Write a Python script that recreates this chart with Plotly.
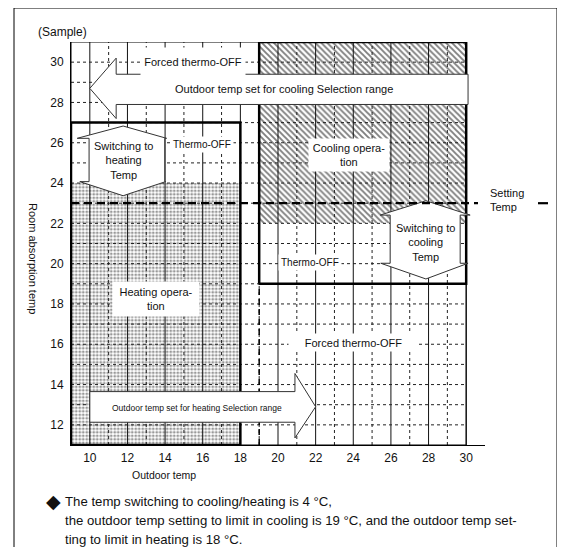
import plotly.graph_objects as go

# --- chart values ---
x_ticks = [10, 12, 14, 16, 18, 20, 22, 24, 26, 28, 30]
y_ticks = [12, 14, 16, 18, 20, 22, 24, 26, 28, 30]
x_minor = [11, 13, 15, 17, 19, 21, 23, 25, 27, 29]
y_rows = list(range(12, 31))

x_lo, x_hi, x_axis_end = 9, 30, 31
y_lo, y_hi = 11, 31

setting_temp = 23
heating_limit = 18        # outdoor temp limit in heating
cooling_limit = 19        # outdoor temp limit in cooling
heating_box_top = 27
heating_on_top = 24
cooling_box_bottom = 19
cooling_on_bottom = 22

# arrow outlines (outdoor temp, room temp)
cool_range_x = [30.1, 11.4, 11.4, 10.0, 11.4, 11.4, 30.1, 30.1]
cool_range_y = [29.4, 29.4, 30.2, 28.7, 27.2, 27.9, 27.9, 29.4]
heat_range_x = [10.0, 20.9, 20.9, 22.0, 20.9, 20.9, 10.0, 10.0]
heat_range_y = [13.65, 13.65, 14.55, 12.9, 11.35, 12.13, 12.13, 13.65]
sw_heat_x = [11.77, 14.08, 13.98, 13.98, 14.03, 11.77, 9.47, 9.96, 9.96, 9.33, 11.77]
sw_heat_y = [26.83, 26.22, 26.22, 24.07, 24.07, 23.37, 24.07, 24.07, 26.22, 26.22, 26.83]
sw_cool_x = [27.86, 30.21, 29.68, 29.68, 30.1, 27.86, 25.46, 25.96, 25.96, 25.43, 27.86]
sw_cool_y = [23.12, 22.41, 22.41, 20.02, 20.02, 19.24, 20.02, 20.02, 22.41, 22.41, 23.12]

FONT = "Liberation Sans, Arial, sans-serif"

# plot area in reference pixels (left, right, top, bottom); page body adds 8px
PL, PR, PT, PB = 71, 485, 42, 445
OFF = 8
W, H = 565 - OFF, 547 - OFF


def px(x):
    return (x - PL) / (PR - PL)


def py(y):
    return (PB - y) / (PB - PT)


def rect(x0, x1, y0, y1):
    return [x0, x1, x1, x0, x0], [y0, y0, y1, y1, y0]


def segs(pairs):
    xs, ys = [], []
    for (a, b) in pairs:
        xs += [a[0], b[0], None]
        ys += [a[1], b[1], None]
    return xs, ys


fig = go.Figure()

# --- operation areas ---
hx, hy = rect(x_lo, heating_limit, y_lo, heating_on_top)
fig.add_trace(go.Scatter(x=hx, y=hy, fill="toself", mode="none",
                         fillpattern=dict(shape=".", size=3.5, solidity=0.5,
                                          fgcolor="#333", bgcolor="white")))
cx, cy = rect(cooling_limit, x_hi, cooling_on_bottom, y_hi)
fig.add_trace(go.Scatter(x=cx, y=cy, fill="toself", mode="none",
                         fillpattern=dict(shape="\\", size=4.2, solidity=0.45,
                                          fgcolor="#000", bgcolor="white")))

# --- grid ---
gx, gy = segs([((v, y_lo), (v, y_hi)) for v in x_ticks])
fig.add_trace(go.Scatter(x=gx, y=gy, mode="lines", line=dict(color="#111", width=1)))
gx, gy = segs([((v, y_lo), (v, y_hi)) for v in x_minor])
fig.add_trace(go.Scatter(x=gx, y=gy, mode="lines", line=dict(color="#222", width=1, dash="dot")))
gx, gy = segs([((x_lo, v), (x_hi, v)) for v in y_rows])
fig.add_trace(go.Scatter(x=gx, y=gy, mode="lines", line=dict(color="#222", width=1, dash="dot")))
fx, fy = rect(x_lo, x_hi, y_lo, y_hi)
fig.add_trace(go.Scatter(x=fx, y=fy, mode="lines", line=dict(color="#000", width=1)))

# cooling outdoor limit
fig.add_trace(go.Scatter(x=[cooling_limit, cooling_limit], y=[y_lo, cooling_box_bottom], mode="lines",
                         line=dict(color="#000", width=1.5, dash="6px,4px")))

# --- area borders ---
bx, by = rect(x_lo, heating_limit, y_lo, heating_box_top)
fig.add_trace(go.Scatter(x=bx, y=by, mode="lines", line=dict(color="#000", width=2.5)))
bx, by = rect(cooling_limit, x_hi, cooling_box_bottom, y_hi)
fig.add_trace(go.Scatter(x=bx, y=by, mode="lines", line=dict(color="#000", width=2.5)))

# --- arrows ---
for ax_, ay_ in [(cool_range_x, cool_range_y), (heat_range_x, heat_range_y),
                 (sw_heat_x, sw_heat_y), (sw_cool_x, sw_cool_y)]:
    fig.add_trace(go.Scatter(x=ax_, y=ay_, fill="toself", fillcolor="white", mode="lines",
                             line=dict(color="#333", width=1)))

# --- shapes outside the grid ---
shapes = [
    # outer frame
    dict(type="line", xref="paper", yref="paper", x0=px(14), x1=px(14), y0=py(8), y1=py(560)),
    dict(type="line", xref="paper", yref="paper", x0=px(14), x1=px(557), y0=py(8), y1=py(8)),
    dict(type="line", xref="paper", yref="paper", x0=px(557), x1=px(557), y0=py(8), y1=py(560)),
    # setting temp
    dict(type="line", xref="paper", yref="y", x0=0, x1=px(478), y0=setting_temp, y1=setting_temp,
         line=dict(dash="8px,5px", width=2.2)),
    dict(type="line", xref="paper", yref="y", x0=px(538), x1=px(548), y0=setting_temp, y1=setting_temp,
         line=dict(width=2.2)),
]
for s in shapes:
    s.setdefault("line", dict(color="#000", width=1))
    s["line"].setdefault("color", "#000")
    s["layer"] = "above"

ann = []


def txt(x, y, text, size=11, bg=None, **kw):
    d = dict(x=x, y=y, text=text, showarrow=False, xanchor="center", yanchor="middle",
             font=dict(family=FONT, size=size, color="#111"))
    if bg:
        d.update(bgcolor=bg, borderpad=2)
    d.update(kw)
    ann.append(d)


txt(15.5, 30.0, "Forced thermo-OFF", bg="white", width=100, height=24)
txt(20.3, 28.67, "Outdoor temp set for cooling Selection range")
txt(15.96, 25.9, "Thermo-OFF", size=10, bg="white")
txt(11.77, 25.1, "Switching to<br>heating<br>Temp")
txt(23.75, 25.4, "Cooling opera-<br>tion", bg="white", width=76, height=28)
txt(27.82, 21.04, "Switching to<br>cooling<br>Temp")
txt(21.7, 20.06, "Thermo-OFF", size=10, bg="white")
txt(24.0, 16.1, "Forced thermo-OFF", bg="white", width=125, height=13)
txt(13.5, 18.25, "Heating opera-<br>tion", bg="white", width=82, height=30)
txt(15.7, 12.84, "Outdoor temp set for heating Selection range", size=8.5)

# outside texts (pixel placement)
txt(px(488), py(199.5), "Setting<br>Temp", xref="paper", yref="paper", xanchor="left", align="left")
txt(px(36), py(32), "(Sample)", size=12, xref="paper", yref="paper", xanchor="left")
txt(px(33), py(258), "Room absorption temp", xref="paper", yref="paper", textangle=90)
txt(px(163.5), py(475), "Outdoor temp", size=10.5, xref="paper", yref="paper")
txt(px(63), py(501), "◆", size=19, xref="paper", yref="paper", xanchor="right")
note = ["The temp switching to cooling/heating is 4 °C,",
        "the outdoor temp setting to limit in cooling is 19 °C, and the outdoor temp set-",
        "ting to limit in heating is 18 °C."]
for i, line in enumerate(note):
    txt(px(63), py(501 + 19 * i), line, size=13.2, xref="paper", yref="paper", xanchor="left")

fig.update_layout(
    width=W, height=H,
    margin=dict(l=PL - OFF, r=565 - PR, t=PT - OFF, b=547 - PB),
    paper_bgcolor="white", plot_bgcolor="white",
    showlegend=False,
    font=dict(family=FONT, size=12, color="#111"),
    shapes=shapes, annotations=ann,
    xaxis=dict(range=[x_lo, x_axis_end], tickvals=x_ticks, showgrid=False, zeroline=False,
               showline=True, linecolor="#000", linewidth=1, ticks="", ticklabelstandoff=2,
               tickfont=dict(size=12)),
    yaxis=dict(range=[y_lo, y_hi], tickvals=y_ticks, showgrid=False, zeroline=False,
               showline=True, linecolor="#000", linewidth=1, ticks="", ticklabelstandoff=4,
               tickfont=dict(size=12)),
)

fig.write_html("out.html")
